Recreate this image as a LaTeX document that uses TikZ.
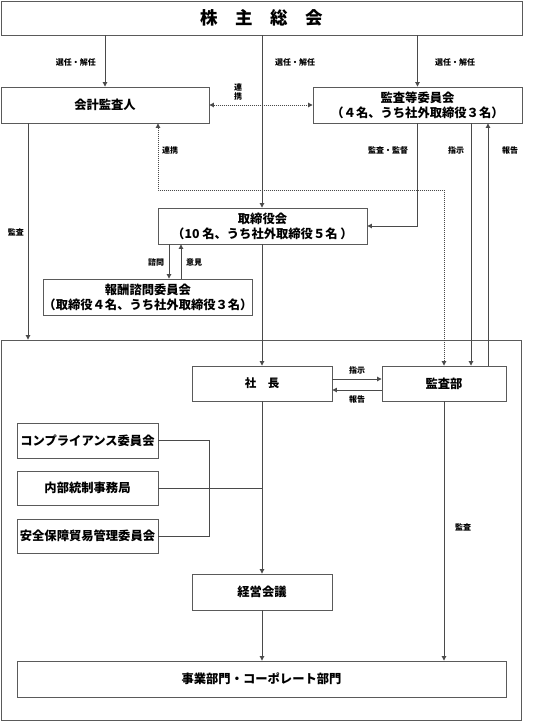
\documentclass[tikz,border=0pt]{standalone}
\usepackage{fontspec}
\setmainfont{Noto Sans CJK JP}
\usetikzlibrary{arrows.meta,calc}
\definecolor{ln}{HTML}{4A4A4A}
\definecolor{bx}{HTML}{5A5A5A}
\begin{document}
\begin{tikzpicture}[x=1pt,y=-1pt,
  box/.style={draw=bx,line width=0.9pt,fill=white,inner sep=0pt,align=center,font=\fontsize{12.3}{15}\selectfont\bfseries},
  wire/.style={draw=ln,line width=0.9pt},
  arr/.style={wire,-{Triangle[length=4.5pt,width=4.5pt]}},
  barr/.style={wire,{Triangle[length=4.5pt,width=4.5pt]}-{Triangle[length=4.5pt,width=4.5pt]}},
  dots/.style={dash pattern=on 1pt off 1pt},
  lab/.style={font=\fontsize{8}{9}\selectfont\bfseries,inner sep=0pt}]
\useasboundingbox (0,0) rectangle (550,721);
% boxes
\node[box,minimum width=521,minimum height=34,font=\fontsize{17.5}{20}\selectfont\bfseries] (top) at (261.5,18) {株　主　総　会};
\node[box,minimum width=520,minimum height=380,draw=bx] (company) at (261.5,530) {};
\node[box,minimum width=208,minimum height=36] (acct) at (105,105) {会計監査人};
\node[box,minimum width=209,minimum height=36] (audcom) at (417.5,105) {監査等委員会\\（４名、うち社外取締役３名）};
\node[box,minimum width=209,minimum height=36] (board) at (262.5,226) {取締役会\\（10 名、うち社外取締役５名 ）};
\node[box,minimum width=208,minimum height=36] (comp) at (148,297) {報酬諮問委員会\\（取締役４名、うち社外取締役３名）};
\node[box,minimum width=140,minimum height=35,font=\fontsize{11.5}{14}\selectfont\bfseries] (pres) at (262,383.5) {社　長};
\node[box,minimum width=124,minimum height=35] (iad) at (444,383.5) {監査部};
\node[box,minimum width=141,minimum height=35] (cc) at (87.5,440.5) {コンプライアンス委員会};
\node[box,minimum width=141,minimum height=34] (ic) at (87.5,488) {内部統制事務局};
\node[box,minimum width=141,minimum height=34] (sec) at (87.5,536) {安全保障貿易管理委員会};
\node[box,minimum width=140,minimum height=36] (mgmt) at (262,592) {経営会議};
\node[box,minimum width=489,minimum height=36] (biz) at (261.5,679) {事業部門・コーポレート部門};
% helper coordinates
\coordinate (x28) at (28,0);
\coordinate (x158) at (158,0);
\coordinate (x169) at (169,0);
\coordinate (x181) at (181,0);
\coordinate (x209) at (209,0);
\coordinate (x471) at (471,0);
\coordinate (x488) at (488,0);
\coordinate (dl) at (444,190);
% connectors
\draw[arr] (top.south -| acct.north) -- (acct.north);
\draw[arr] (top.south -| pres.north) -- (pres.north |- board.north);
\draw[arr] (top.south -| audcom.south) -- (audcom.north -| audcom.south);
\draw[barr,dots] (acct.east) -- (audcom.west);
\draw[arr] (x28 |- acct.south) -- (x28 |- company.north);
\draw[barr,dots] (x158 |- acct.south) |- (dl) -- (iad.north);
\draw[arr] (audcom.south) |- (board.east);
\draw[arr] (x471 |- audcom.south) -- (x471 |- iad.north);
\draw[arr] (x488 |- iad.north) -- (x488 |- audcom.south);
\draw[arr] (x169 |- board.south) -- (x169 |- comp.north);
\draw[arr] (x181 |- comp.north) -- (x181 |- board.south);
\draw[arr] (pres.north |- board.south) -- (pres.north);
\draw[arr] ([yshift=4.5pt]pres.east) -- ([yshift=4.5pt]iad.west);
\draw[arr] ([yshift=-6.5pt]iad.west) -- ([yshift=-6.5pt]pres.east);
\draw[arr] (iad.south) -- (iad.south |- biz.north);
\draw[arr] (pres.south) -- (mgmt.north);
\draw[arr] (mgmt.south) -- (mgmt.south |- biz.north);
\draw[wire] (cc.east) -- (x209 |- cc.east) -- (x209 |- sec.east) -- (sec.east);
\draw[wire] (ic.east) -- (pres.south |- ic.east);
% labels
\node[lab] (l1) at (76,62) {選任・解任};
\node[lab] (l2) at (295,62) {選任・解任};
\node[lab] (l3) at (455,62) {選任・解任};
\node[lab,align=center] (l4) at (238,92) {連\\携};
\node[lab] (l5) at (170,150) {連携};
\node[lab] (l6) at (388,150) {監査・監督};
\node[lab] (l7) at (456,150) {指示};
\node[lab] (l8) at (510,150) {報告};
\node[lab] (l9) at (16,232) {監査};
\node[lab] (l10) at (156,262) {諮問};
\node[lab] (l11) at (194,262) {意見};
\node[lab] (l12) at (357,370) {指示};
\node[lab] (l13) at (357,399) {報告};
\node[lab] (l14) at (463,527) {監査};
\end{tikzpicture}
\end{document}
